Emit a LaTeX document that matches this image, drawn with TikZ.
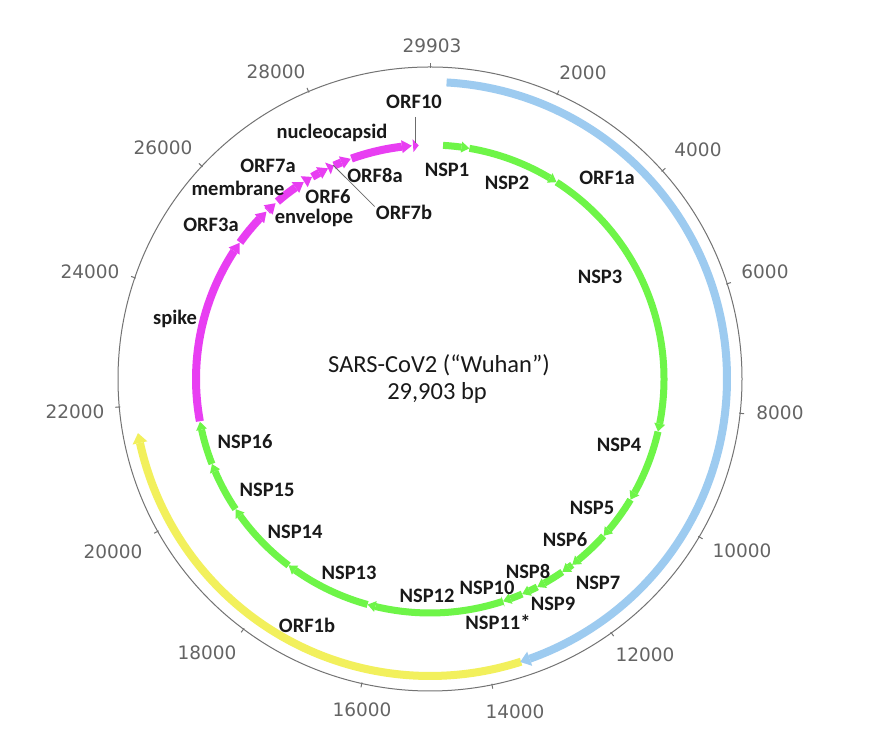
\documentclass[tikz,border=0pt]{standalone}
\usepackage{fontspec}
\setmainfont{Carlito}
\newfontfamily\tickfont{DejaVu Sans}
\definecolor{orfblue}{RGB}{157,203,240}
\definecolor{nspgreen}{RGB}{110,245,72}
\definecolor{genmag}{RGB}{232,62,242}
\definecolor{orfyellow}{RGB}{242,240,92}
\definecolor{lblcol}{RGB}{25,25,25}
\definecolor{tickcol}{RGB}{100,100,100}
\tikzset{
  lbl/.style={font=\bfseries\fontsize{20.5}{22}\selectfont, text=lblcol, inner sep=0pt},
  ticklbl/.style={font=\tickfont\fontsize{18.5}{20}\selectfont, text=tickcol, inner sep=0pt},
  ctrtxt/.style={font=\fontsize{24.5}{28}\selectfont, text=lblcol, inner sep=0pt},
  leader/.style={draw=gray!85!black, line width=0.8pt},
  ringline/.style={draw=gray!90!black, line width=1pt},
}
% feature (positions in kb): start, end, radius, colour, line width, half head width, head length
\newcommand\gfeat[7]{%
  \pgfmathsetmacro\gfThS{90-#1*360/29.903}%
  \pgfmathsetmacro\gfThE{90-#2*360/29.903}%
  \pgfmathsetmacro\gfThB{min(\gfThS,\gfThE+#7/#3*180/pi)}%
  \pgfmathsetmacro\gfRin{#3-#6}%
  \pgfmathsetmacro\gfRout{#3+#6}%
  \pgfmathtruncatemacro\gfDo{(\gfThS-\gfThB)>0.01}%
  \ifnum\gfDo=1
    \draw[#4,line width=#5] (\gfThS:#3) arc[start angle=\gfThS,end angle=\gfThB,radius=#3];
  \fi
  \fill[#4] (\gfThB:\gfRin) -- (\gfThE:#3) -- (\gfThB:\gfRout) -- cycle;
}
\begin{document}
\begin{tikzpicture}[x=1pt,y=1pt]
\useasboundingbox (0,0) rectangle (892,751);
\fill[white] (0,0) rectangle (892,751);
\begin{scope}[shift={(430,372)}]
  % outer ring and ticks
  \draw[ringline] (0,0) circle[radius=312];
  \foreach \p in {0,2,...,28}{
    \pgfmathsetmacro\ta{90-\p*360/29.903}
    \draw[ringline] (\ta:311) -- (\ta:316);
  }
  % ORF1b and ORF1a
  \gfeat{13.468}{21.555}{297}{orfyellow}{8}{7.5}{10}
  \gfeat{0.266}{13.483}{297}{orfblue}{8}{7.5}{10}
  % NSPs
  \foreach \s/\e in {0.266/0.805,0.806/2.719,2.720/8.554,8.555/10.054,10.055/10.972,10.973/11.842,
     11.843/12.091,12.092/12.685,12.686/13.024,13.025/13.441,13.442/16.236,13.442/13.480,
     16.237/18.039,18.040/19.620,19.621/20.658,20.659/21.552}{
    \gfeat{\s}{\e}{234}{nspgreen}{7}{5.5}{8}
  }
  % structural and accessory genes
  \foreach \s/\e in {21.563/25.384,25.393/26.220,26.245/26.472,26.523/27.191,27.202/27.387,
     27.394/27.759,27.756/27.887,27.894/28.259,28.274/29.533,29.558/29.674}{
    \gfeat{\s}{\e}{234}{genmag}{8}{6.5}{10}
  }
\end{scope}
% tick labels
\node[ticklbl] (t0) at (432,705) {29903};
\node[ticklbl] (t2) at (583,678) {2000};
\node[ticklbl] (t4) at (698,601) {4000};
\node[ticklbl] (t6) at (765,479) {6000};
\node[ticklbl] (t8) at (780,338) {8000};
\node[ticklbl] (t10) at (742,200) {10000};
\node[ticklbl] (t12) at (645,96) {12000};
\node[ticklbl] (t14) at (515,39) {14000};
\node[ticklbl] (t16) at (362,41) {16000};
\node[ticklbl] (t18) at (207,98) {18000};
\node[ticklbl] (t20) at (113,199) {20000};
\node[ticklbl] (t22) at (75,339) {22000};
\node[ticklbl] (t24) at (90,479) {24000};
\node[ticklbl] (t26) at (163,603) {26000};
\node[ticklbl] (t28) at (276,679) {28000};
% centre text
\node[ctrtxt] (title) at (439,386) {SARS-CoV2 (“Wuhan”)};
\node[ctrtxt] (size) at (437,358) {29,903 bp};
% gene labels
\node[lbl] (orf10) at (414,649) {ORF10};
\node[lbl] (ncap) at (332,618) {nucleocapsid};
\node[lbl] (nsp1) at (447,581) {NSP1};
\node[lbl] (nsp2) at (507,568) {NSP2};
\node[lbl] (orf1a) at (607,573) {ORF1a};
\node[lbl] (orf8a) at (375,575) {ORF8a};
\node[lbl] (orf7b) at (404,539) {ORF7b};
\node[lbl] (orf7a) at (268,585) {ORF7a};
\node[lbl] (memb) at (238,563) {membrane};
\node[lbl] (orf6) at (328,554) {ORF6};
\node[lbl] (env) at (314,533) {envelope};
\node[lbl] (orf3a) at (211,526) {ORF3a};
\node[lbl] (nsp3) at (600,474) {NSP3};
\node[lbl] (spike) at (175,432) {spike};
\node[lbl] (nsp4) at (619,306) {NSP4};
\node[lbl] (nsp5) at (592,243) {NSP5};
\node[lbl] (nsp6) at (565,211) {NSP6};
\node[lbl] (nsp8) at (528,179) {NSP8};
\node[lbl] (nsp7) at (598,168) {NSP7};
\node[lbl] (nsp10) at (487,163) {NSP10};
\node[lbl] (nsp9) at (553,147) {NSP9};
\node[lbl] (nsp11) at (498,129) {NSP11*};
\node[lbl] (nsp12) at (427,155) {NSP12};
\node[lbl] (nsp13) at (349,178) {NSP13};
\node[lbl] (nsp14) at (295,219) {NSP14};
\node[lbl] (nsp15) at (267,261) {NSP15};
\node[lbl] (nsp16) at (245,309) {NSP16};
\node[lbl] (orf1b) at (307,126) {ORF1b};
% leader lines
\coordinate (orf10tip) at (415,608);
\coordinate (orf7bgene) at (333,586);
\draw[leader] ([xshift=1pt,yshift=-8pt]orf10.south) -- (orf10tip);
\draw[leader] (orf7bgene) -- ([xshift=-1pt,yshift=-2pt]orf7b.north west);
\end{tikzpicture}
\end{document}
